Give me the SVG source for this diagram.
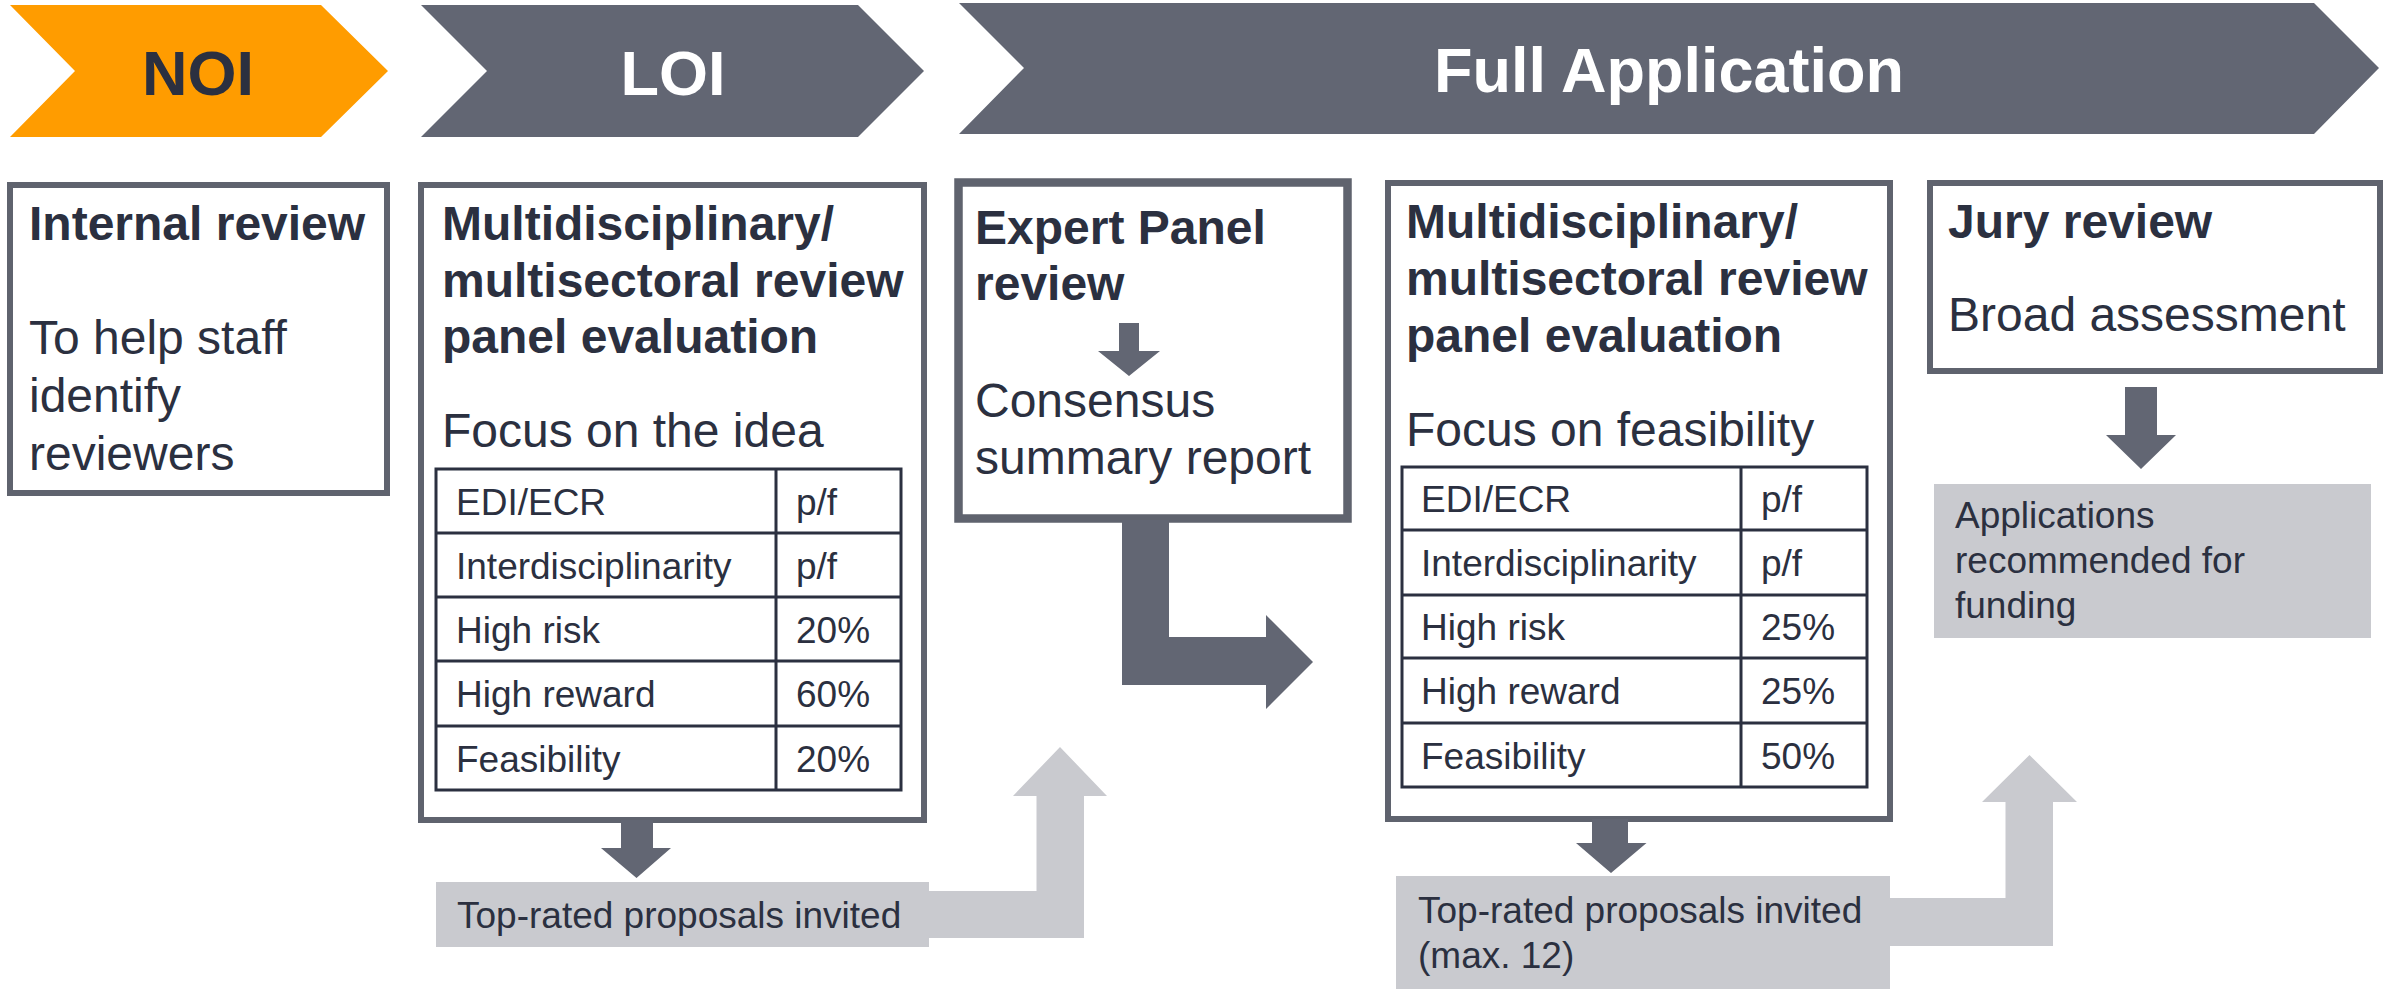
<svg xmlns="http://www.w3.org/2000/svg" width="2404" height="989" viewBox="0 0 2404 989">
<style>
text{font-family:"Liberation Sans",Arial,sans-serif;fill:#2b3040}
.b{font-weight:bold;font-size:48px}
.r{font-size:48px}
.t{font-size:37px}
.s{font-size:37px}
.chev{fill:#626673}
.box{fill:#fff;stroke:#5f636e;stroke-width:6}
.tbl{fill:none;stroke:#2b3040;stroke-width:3}
.dark{fill:#626673}
.light{fill:#c9cacf}
.hd{font-weight:bold;font-size:63px;text-anchor:middle}
</style>
<rect width="2404" height="989" fill="#fff"/>
<g id="noi">
<polygon points="10,5 321,5 388,71 321,137 10,137 75,71" fill="#ff9c00"/>
<text class="hd" x="198" y="95">NOI</text>
</g>
<g id="loi">
<polygon class="chev" points="421,5 858,5 924,71 858,137 421,137 487,71"/>
<text class="hd" x="673" y="95" style="fill:#fff">LOI</text>
</g>
<g id="full-application">
<polygon class="chev" points="959,3 2314,3 2379,68 2314,134 959,134 1024,68"/>
<text class="hd" x="1669" y="92" style="fill:#fff">Full Application</text>
</g>
<g id="internal-review">
<rect class="box" x="10" y="185" width="377" height="308"/>
<text class="b" x="29" y="240">Internal review</text>
<text class="r" x="29" y="354">To help staff</text>
<text class="r" x="29" y="412">identify</text>
<text class="r" x="29" y="470">reviewers</text>
</g>
<g id="loi-panel">
<rect class="box" x="421" y="185" width="503" height="635"/>
<text class="b" x="442" y="240">Multidisciplinary/</text>
<text class="b" x="442" y="297">multisectoral review</text>
<text class="b" x="442" y="353">panel evaluation</text>
<text class="r" x="442" y="447">Focus on the idea</text>
<g id="loi-table">
<rect class="tbl" x="436" y="469" width="465" height="321"/>
<path class="tbl" d="M776,469V790M436,533H901M436,597H901M436,661H901M436,726H901"/>
<text class="t" x="456" y="515">EDI/ECR</text><text class="t" x="796" y="515">p/f</text>
<text class="t" x="456" y="579">Interdisciplinarity</text><text class="t" x="796" y="579">p/f</text>
<text class="t" x="456" y="643">High risk</text><text class="t" x="796" y="643">20%</text>
<text class="t" x="456" y="707">High reward</text><text class="t" x="796" y="707">60%</text>
<text class="t" x="456" y="772">Feasibility</text><text class="t" x="796" y="772">20%</text>
</g>
</g>
<g id="expert-panel">
<rect class="box" x="958.5" y="182.5" width="389" height="336" style="stroke-width:8.5"/>
<text class="b" x="975" y="244">Expert Panel</text>
<text class="b" x="975" y="300">review</text>
<text class="r" x="975" y="417">Consensus</text>
<text class="r" x="975" y="474">summary report</text>
</g>
<g id="full-panel">
<rect class="box" x="1388" y="183" width="502" height="636"/>
<text class="b" x="1406" y="238">Multidisciplinary/</text>
<text class="b" x="1406" y="295">multisectoral review</text>
<text class="b" x="1406" y="352">panel evaluation</text>
<text class="r" x="1406" y="446">Focus on feasibility</text>
<g id="full-table">
<rect class="tbl" x="1402" y="467" width="465" height="320"/>
<path class="tbl" d="M1741,467V787M1402,530H1867M1402,595H1867M1402,658H1867M1402,723H1867"/>
<text class="t" x="1421" y="512">EDI/ECR</text><text class="t" x="1761" y="512">p/f</text>
<text class="t" x="1421" y="576">Interdisciplinarity</text><text class="t" x="1761" y="576">p/f</text>
<text class="t" x="1421" y="640">High risk</text><text class="t" x="1761" y="640">25%</text>
<text class="t" x="1421" y="704">High reward</text><text class="t" x="1761" y="704">25%</text>
<text class="t" x="1421" y="769">Feasibility</text><text class="t" x="1761" y="769">50%</text>
</g>
</g>
<g id="jury-review">
<rect class="box" x="1930" y="183" width="450" height="188"/>
<text class="b" x="1948" y="238">Jury review</text>
<text class="r" x="1948" y="331">Broad assessment</text>
</g>
<g id="connectors">
<polygon class="dark" points="621,820 653,820 653,848 671,848 636.5,878 601,848 621,848"/>
<polygon class="dark" points="1119,323 1139,323 1139,351 1160,351 1129,376 1098,351 1119,351"/>
<polygon class="dark" points="1122,520 1169,520 1169,637 1266,637 1266,615 1313,662 1266,709 1266,685 1122,685"/>
<polygon class="dark" points="1592,819 1628,819 1628,843 1646.5,843 1611,873 1576,843 1592,843"/>
<polygon class="dark" points="2125,387 2157,387 2157,435 2176,435 2141,469 2106,435 2125,435"/>
<polygon class="light" points="929,891 1036.5,891 1036.5,796 1013,796 1060,747 1107,796 1084,796 1084,938 929,938"/>
<polygon class="light" points="1889,898 2005.5,898 2005.5,802 1982,802 2029.5,755 2077,802 2053,802 2053,946 1889,946"/>
</g>
<g id="invited-loi">
<rect class="light" x="436" y="882" width="493" height="65"/>
<text class="s" x="457" y="928">Top-rated proposals invited</text>
</g>
<g id="invited-full">
<rect class="light" x="1396" y="876" width="494" height="113"/>
<text class="s" x="1418" y="923">Top-rated proposals invited</text>
<text class="s" x="1418" y="968">(max. 12)</text>
</g>
<g id="recommended">
<rect class="light" x="1934" y="484" width="437" height="154"/>
<text class="s" x="1955" y="528">Applications</text>
<text class="s" x="1955" y="573">recommended for</text>
<text class="s" x="1955" y="618">funding</text>
</g>
</svg>
